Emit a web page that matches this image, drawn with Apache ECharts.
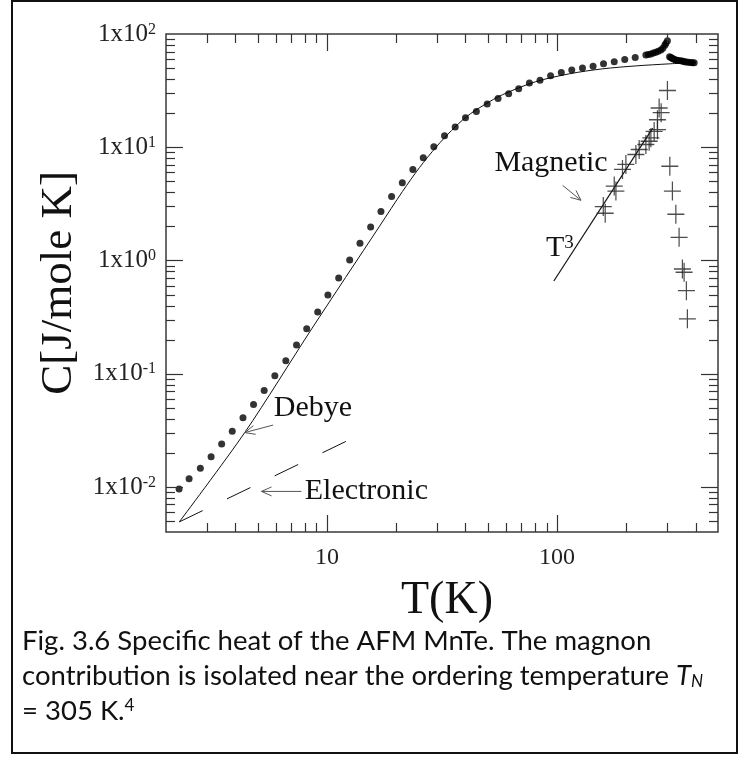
<!DOCTYPE html>
<html>
<head>
<meta charset="utf-8">
<script src="https://cdn.jsdelivr.net/npm/echarts@6/dist/echarts.min.js"></script>
<style>
  html, body { margin: 0; padding: 0; background: #fff; }
  #chart { width: 742px; height: 759px; }
</style>
</head>
<body>
<div id="chart"></div>
<script>
// Measured specific heat of MnTe, C [J/mole K] vs T [K] (filled circles)
const totalT = [2.28, 2.52, 2.82, 3.14, 3.49, 3.88, 4.32, 4.80, 5.34, 5.94, 6.63, 7.38, 8.17, 9.12,
  10.1, 11.25, 12.56, 13.92, 15.49, 17.17, 19.10, 21.26, 23.63, 26.21, 29.14, 32.43, 36.08, 40.0,
  44.6, 49.7, 55.4, 61.6, 68.1, 75.8, 84.3, 93.7, 104.3, 115.8, 128.9, 143.3, 159.1, 177.1, 196.7,
  218.4, 243.0, 249, 255.5, 262, 268.5, 275, 282.3, 288, 293.8, 297, 301.5,
  308, 312, 316, 320, 326, 331, 337, 345, 352, 358, 364, 372, 380, 387, 394];
const totalC = [0.00957, 0.0118, 0.0146, 0.0185, 0.0239, 0.0310, 0.0409, 0.0535, 0.0710, 0.0957, 0.130, 0.179, 0.249, 0.350,
  0.496, 0.700, 1.01, 1.42, 1.98, 2.70, 3.68, 4.86, 6.37, 8.07, 10.1, 12.6, 15.1, 18.2,
  20.7, 24.1, 27.0, 29.7, 32.8, 36.9, 39.0, 42.7, 45.7, 48.0, 50.0, 52.0, 54.5, 56.9, 59.5,
  62.1, 65.4, 66.0, 66.7, 67.8, 69.0, 70.5, 72.3, 75.0, 79.6, 83.0, 87.3,
  63.0, 61.9, 61.0, 60.2, 59.1, 58.7, 58.3, 57.9, 57.4, 56.9, 56.6, 56.2, 55.9, 55.8, 55.8];

// Debye lattice contribution (solid curve)
const debyeT = [2.284, 4.40, 8.59, 16.94, 21.32, 25.27, 29.94, 34.77, 40.40, 48.34, 57.86, 80.45, 113.0, 157.0, 220.6, 306.7, 401.6];
const debyeC = [0.00491, 0.0303, 0.249, 2.01, 4.08, 6.63, 10.14, 14.03, 18.62, 23.74, 29.08, 37.83, 44.5, 49.2, 52.3, 54.5, 56.1];

// Electronic contribution (dashed line)
const elecT = [2.284, 12.47];
const elecC = [0.00491, 0.0260];

// Magnetic (magnon) contribution (crosses)
const magT = [158.7, 161.8, 177.1, 180.1, 192.3, 199, 219.9, 227.3, 243, 251.1, 255.5, 264, 272.9, 272.9, 277.5, 283.1, 301.5,
  308.8, 316.9, 328, 338.8, 350.2, 356.2, 364.5, 368.1];
const magC = [2.99, 2.61, 4.54, 4.10, 6.37, 7.05, 8.62, 9.54, 10.56, 11.29, 12.1, 13.8, 14.3, 17.5, 22.2, 20.2, 31.7,
  6.8, 4.10, 2.56, 1.60, 0.84, 0.786, 0.541, 0.305];

// T^3 law fitted to the magnon part
const t3T = [96.8, 260.2];
const t3C = [0.659, 14.75];

// Axis ticks and labels
const xMajorTicks = [10, 100];
const xMinorTicks = [3, 4, 5, 6, 7, 8, 9, 20, 30, 40, 50, 60, 70, 80, 90, 200, 300, 400];
const xTickLabels = ['10', '100'];
const yMajorTicks = [0.01, 0.1, 1, 10];
const yMinorTicks = [0.005, 0.006, 0.007, 0.008, 0.009, 0.02, 0.03, 0.04, 0.05, 0.06, 0.07, 0.08, 0.09,
  0.2, 0.3, 0.4, 0.5, 0.6, 0.7, 0.8, 0.9, 2, 3, 4, 5, 6, 7, 8, 9, 20, 30, 40, 50, 60, 70, 80, 90];
const yTickValues = [0.01, 0.1, 1, 10, 100];
const yTickExponents = ['-2', '-1', '0', '1', '2'];

// Curve annotations: label anchor and arrow (tail -> head), in data units
const noteText = ['Debye', 'Electronic', 'Magnetic'];
const noteT = [5.88, 8.01, 53.4];
const noteC = [0.0493, 0.00913, 7.19];
const arrowTailT = [5.84, 7.75, 105.7];
const arrowTailC = [0.0352, 0.00913, 4.60];
const arrowHeadT = [4.40, 5.20, 127];
const arrowHeadC = [0.0302, 0.00913, 3.40];
const t3LabelT = [89.5];
const t3LabelC = [1.285];

const serif = '"Liberation Serif", "Times New Roman", serif';
const captionFont = 'Lato';
const captionSize = 27.5;
const pairs = (xs, ys) => xs.map((x, i) => [x, ys[i]]);
const isDecade = v => Math.abs(Math.log10(v) - Math.round(Math.log10(v))) < 1e-6;

// tick items: [T, C, kind]  kind 0/1 = x major/minor, 2/3 = y major/minor
const tickData = [];
xMajorTicks.forEach(v => tickData.push([v, 1, 0]));
xMinorTicks.forEach(v => tickData.push([v, 1, 1]));
yMajorTicks.forEach(v => tickData.push([10, v, 2]));
yMinorTicks.forEach(v => tickData.push([10, v, 3]));

function renderTick(params, api) {
  const cs = params.coordSys;
  const kind = api.value(2);
  const p = api.coord([api.value(0), api.value(1)]);
  const len = (kind === 0 || kind === 2) ? 17 : 9;
  const style = { stroke: '#333', lineWidth: 1.2 };
  if (kind < 2) {
    const x = Math.round(p[0]) + 0.5;
    const yb = cs.y + cs.height, yt = cs.y;
    return { type: 'group', children: [
      { type: 'line', shape: { x1: x, y1: yb, x2: x, y2: yb - len }, style },
      { type: 'line', shape: { x1: x, y1: yt, x2: x, y2: yt + len }, style }
    ] };
  }
  const y = Math.round(p[1]) + 0.5;
  const xl = cs.x, xr = cs.x + cs.width;
  return { type: 'group', children: [
    { type: 'line', shape: { x1: xl, y1: y, x2: xl + len, y2: y }, style },
    { type: 'line', shape: { x1: xr, y1: y, x2: xr - len, y2: y }, style }
  ] };
}

const noteData = noteText.map((t, i) => [noteT[i], noteC[i], i]);

function renderNote(params, api) {
  const i = api.value(2);
  const p = api.coord([noteT[i], noteC[i]]);
  const a = api.coord([arrowTailT[i], arrowTailC[i]]);
  const b = api.coord([arrowHeadT[i], arrowHeadC[i]]);
  const ang = Math.atan2(b[1] - a[1], b[0] - a[0]);
  const hl = 11, spread = 0.42;
  const h1 = [b[0] - hl * Math.cos(ang - spread), b[1] - hl * Math.sin(ang - spread)];
  const h2 = [b[0] - hl * Math.cos(ang + spread), b[1] - hl * Math.sin(ang + spread)];
  const ls = { stroke: '#555', lineWidth: 1, fill: null };
  return { type: 'group', children: [
    { type: 'text', style: { text: noteText[i], x: p[0], y: p[1], font: '30px ' + serif, fill: '#111',
      align: 'left', textAlign: 'left', verticalAlign: 'middle', textVerticalAlign: 'middle' } },
    { type: 'line', shape: { x1: a[0], y1: a[1], x2: b[0], y2: b[1] }, style: ls },
    { type: 'polyline', shape: { points: [h1, b, h2] }, style: ls }
  ] };
}

function renderT3Label(params, api) {
  const p = api.coord([api.value(0), api.value(1)]);
  return { type: 'text', style: { text: '{b|T}{s|3}', x: p[0], y: p[1],
    align: 'left', textAlign: 'left', verticalAlign: 'middle', textVerticalAlign: 'middle',
    rich: {
      b: { fontFamily: serif, fontSize: 30, lineHeight: 30, fill: '#111', color: '#111' },
      s: { fontFamily: serif, fontSize: 19, lineHeight: 19, fill: '#111', color: '#111', verticalAlign: 'top' }
    } } };
}

const plusPath = 'path://M0,-10 L0,10 M-9,0 L9,0';

const option = {
  animation: false,
  backgroundColor: '#fff',
  grid: { left: 166, top: 34, width: 552, height: 498, show: true, borderColor: '#3a3a3a', borderWidth: 1.5, backgroundColor: 'transparent' },
  xAxis: {
    type: 'log', logBase: 10, min: 2, max: 500,
    name: 'T(K)', nameLocation: 'middle', nameGap: 46,
    nameTextStyle: { fontFamily: serif, fontSize: 46, color: '#111', padding: [0, 0, 0, 10] },
    axisLine: { show: false },
    axisTick: { show: false },
    splitLine: { show: false },
    minorTick: { show: false },
    axisLabel: {
      margin: 14, fontFamily: serif, fontSize: 24, color: '#222',
      showMinLabel: false, showMaxLabel: false,
      formatter: v => {
        if (!isDecade(v)) return '';
        const k = xMajorTicks.findIndex(t => Math.abs(t - v) / t < 1e-6);
        return k >= 0 ? xTickLabels[k] : '';
      }
    }
  },
  yAxis: {
    type: 'log', logBase: 10, min: 0.004, max: 100,
    name: 'C[J/mole K]', nameLocation: 'middle', nameGap: 80, nameRotate: 90,
    nameTextStyle: { fontFamily: serif, fontSize: 45, color: '#111' },
    axisLine: { show: false },
    axisTick: { show: false },
    splitLine: { show: false },
    axisLabel: {
      margin: 10, fontFamily: serif, fontSize: 25, color: '#222',
      formatter: v => {
        if (!isDecade(v)) return '';
        const k = yTickValues.findIndex(t => Math.abs(t - v) / t < 1e-6);
        return k >= 0 ? '1x10{s|' + yTickExponents[k] + '}' : '';
      },
      rich: {
        s: { fontFamily: serif, fontSize: 16, lineHeight: 16, color: '#222', verticalAlign: 'top' }
      }
    }
  },
  series: [
    {
      name: 'Debye', type: 'line', data: pairs(debyeT, debyeC), showSymbol: false, smooth: 0.3,
      lineStyle: { color: '#111', width: 1 }, z: 2
    },
    {
      name: 'Electronic', type: 'line', data: pairs(elecT, elecC), showSymbol: false,
      lineStyle: { color: '#111', width: 1, type: [26, 27] }, z: 2
    },
    {
      name: 'T3', type: 'line', data: pairs(t3T, t3C), showSymbol: false,
      lineStyle: { color: '#111', width: 1.2 }, z: 2
    },
    {
      name: 'C total', type: 'scatter', data: pairs(totalT, totalC), symbol: 'circle', symbolSize: 7,
      itemStyle: { color: '#000' }, z: 3
    },
    {
      name: 'Magnetic', type: 'scatter', data: pairs(magT, magC), symbol: plusPath, symbolSize: [17, 19],
      itemStyle: { color: 'rgba(0,0,0,0)', borderColor: '#222', borderWidth: 1.3 }, z: 3
    },
    { name: 'ticks', type: 'custom', data: tickData, renderItem: renderTick, silent: true, z: 4 },
    { name: 'notes', type: 'custom', data: noteData, renderItem: renderNote, silent: true, z: 5 },
    { name: 'T3 label', type: 'custom', data: pairs(t3LabelT, t3LabelC), renderItem: renderT3Label, silent: true, z: 5 }
  ],
  graphic: [
    { type: 'rect', shape: { x: 12, y: 1, width: 725, height: 752 }, style: { fill: null, stroke: '#111', lineWidth: 2 }, silent: true },
    { type: 'text', left: 22, top: 627, style: { text: 'Fig. 3.6 Specific heat of the AFM MnTe. The magnon',
      font: captionSize + 'px ' + captionFont, fill: '#111' } },
    { type: 'text', left: 22, top: 662, style: {
      text: 'contribution is isolated near the ordering temperature {i|T}{sub|N}', font: captionSize + 'px ' + captionFont, fill: '#111',
      rich: { i: { fontFamily: captionFont, fontStyle: 'italic', fontSize: captionSize, fill: '#111', color: '#111' },
              sub: { fontFamily: captionFont, fontStyle: 'italic', fontSize: 17, fill: '#111', color: '#111', verticalAlign: 'bottom' } } } },
    { type: 'text', left: 22, top: 697, style: {
      text: '= 305 K.{sup|4}', font: captionSize + 'px ' + captionFont, fill: '#111',
      rich: { sup: { fontFamily: captionFont, fontSize: 17, fill: '#111', color: '#111', verticalAlign: 'top' } } } }
  ]
};

const chart = echarts.init(document.getElementById('chart'));
chart.setOption(option);
</script>
</body>
</html>
